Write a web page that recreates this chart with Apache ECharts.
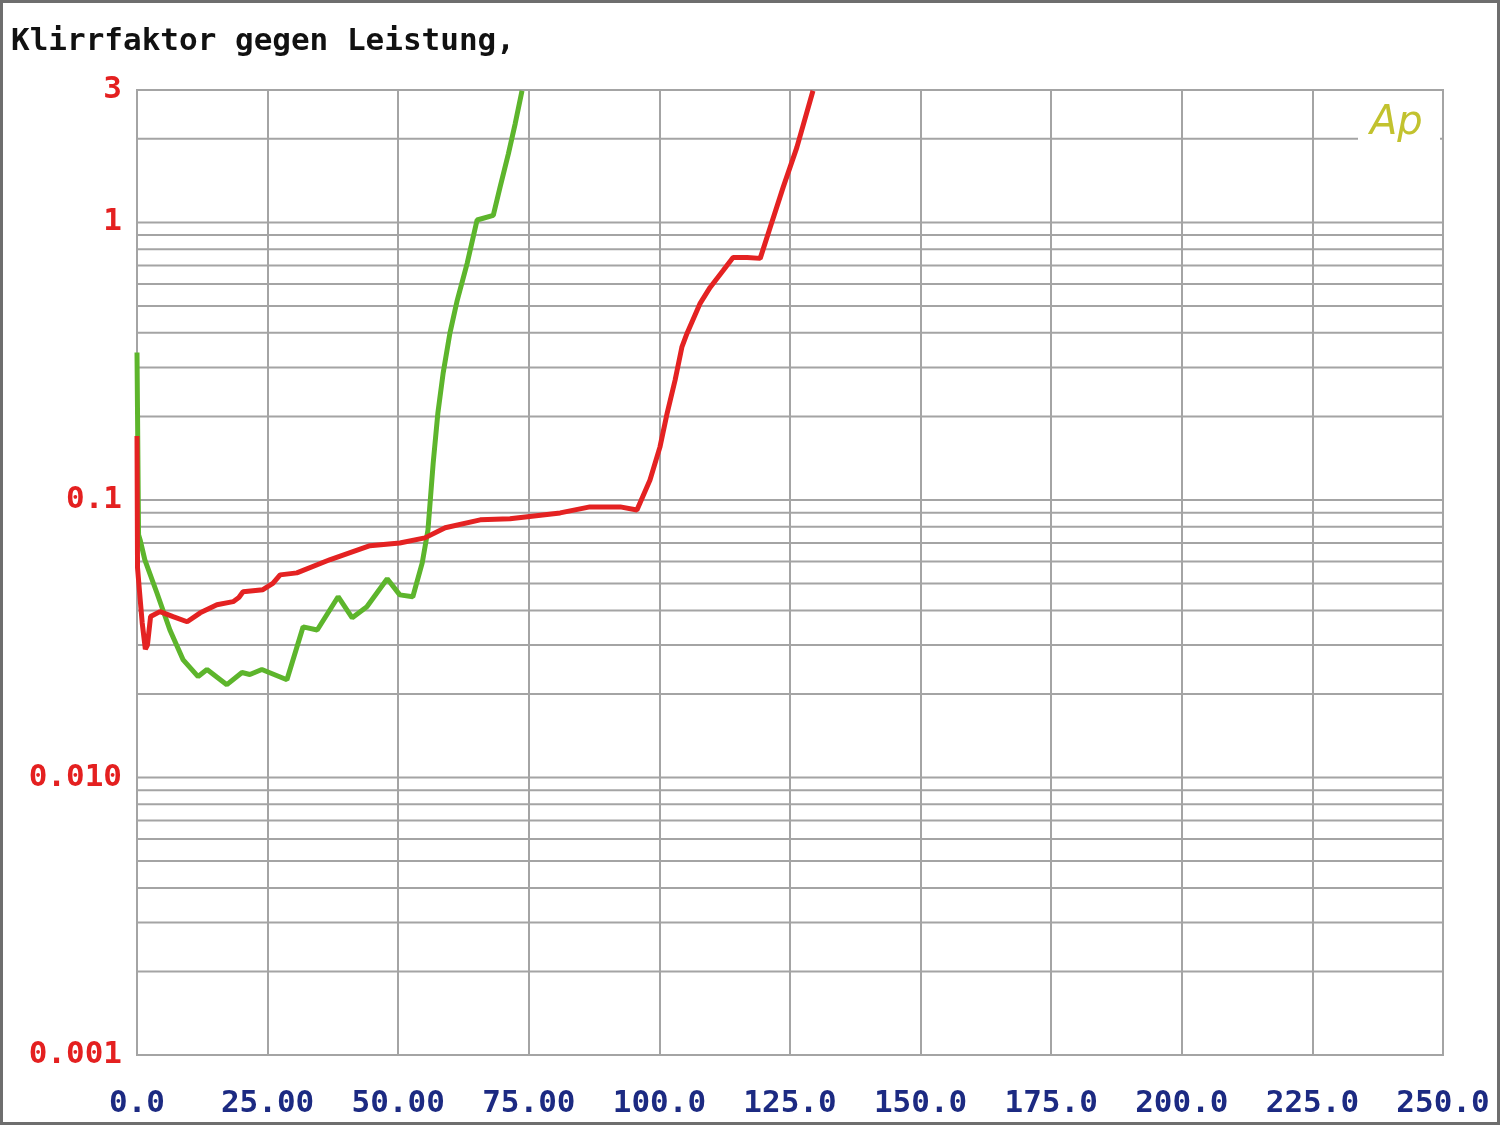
<!DOCTYPE html>
<html>
<head>
<meta charset="utf-8">
<script src="https://cdn.jsdelivr.net/npm/echarts@6/dist/echarts.min.js"></script>
<style>
html,body{margin:0;padding:0;background:#fff;}
#c{width:1500px;height:1125px;}
</style>
</head>
<body>
<div id="c"></div>
<script>
// Data (x: power, y: distortion %)
var greenSeries = [
  [0, 0.34], [0.3, 0.075], [0.6, 0.0718], [1.5, 0.0608], [3.8, 0.0463], [6.3, 0.034],
  [8.8, 0.0266], [11.7, 0.0231], [13.4, 0.0245], [17.2, 0.0216], [20.1, 0.0239],
  [21.6, 0.0235], [23.9, 0.0245], [28.7, 0.0225], [31.8, 0.0349], [34.5, 0.034],
  [38.5, 0.0448], [41.2, 0.0376], [44.0, 0.0412], [47.9, 0.052], [50.3, 0.0455],
  [52.8, 0.0448], [54.6, 0.0593], [55.7, 0.078], [56.7, 0.136], [57.6, 0.206],
  [58.6, 0.286], [59.9, 0.399], [61.3, 0.524], [63.2, 0.712], [65.1, 1.02],
  [68.2, 1.06], [69.5, 1.34], [71.1, 1.77], [72.4, 2.27], [73.7, 2.98]
];
var redSeries = [
  [0, 0.17], [0.1, 0.057], [0.6, 0.044], [1.0, 0.036], [1.6, 0.029], [2.0, 0.030],
  [2.6, 0.038], [4.4, 0.0396], [6.9, 0.038], [9.6, 0.0364], [12.1, 0.0392],
  [15.3, 0.0419], [18.4, 0.043], [19.5, 0.0445], [20.3, 0.0467], [24.1, 0.0475],
  [26, 0.050], [27.4, 0.0537], [30.6, 0.0546], [37, 0.061], [44.6, 0.0684],
  [50.3, 0.070], [55.1, 0.073], [59, 0.0794], [65.7, 0.0848], [71.4, 0.0855],
  [81, 0.0898], [86.7, 0.0944], [92.5, 0.0944], [95.7, 0.092], [98.2, 0.118],
  [100.1, 0.155], [101.5, 0.206], [103, 0.27], [104.3, 0.355], [105.3, 0.399],
  [107.8, 0.511], [109.7, 0.583], [112.2, 0.671], [114.1, 0.748], [116.8, 0.748],
  [119.3, 0.742], [121.2, 0.959], [123.7, 1.34], [126.3, 1.86], [129.4, 2.98]
];
var xTickValues = [0, 25, 50, 75, 100, 125, 150, 175, 200, 225, 250];
var xTickLabels = ['0.0', '25.00', '50.00', '75.00', '100.0', '125.0', '150.0', '175.0', '200.0', '225.0', '250.0'];
var yTickValues = [0.001, 0.01, 0.1, 1, 3];
var yTickLabels = ['0.001', '0.010', '0.1', '1', '3'];
var yGridValues = [
  0.002, 0.003, 0.004, 0.005, 0.006, 0.007, 0.008, 0.009,
  0.01, 0.02, 0.03, 0.04, 0.05, 0.06, 0.07, 0.08, 0.09,
  0.1, 0.2, 0.3, 0.4, 0.5, 0.6, 0.7, 0.8, 0.9,
  1, 2
];

var GRID = '#a4a4a4';
var chart = echarts.init(document.getElementById('c'), null, {renderer: 'canvas'});

function yLabel(v) {
  var i = -1;
  for (var k = 0; k < yTickValues.length; k++) {
    if (Math.abs(Math.log10(v) - Math.log10(yTickValues[k])) < 1e-6) { i = k; }
  }
  if (i < 0) return '';
  var t = yTickLabels[i];
  return (v < 0.05) ? '{g|' + t + '}' : '{r|' + t + '}';
}

var gridSeries = yGridValues.map(function (v) {
  return {
    type: 'line', data: [[0, v], [250, v]], z: 1, silent: true,
    showSymbol: false, symbol: 'none',
    lineStyle: {color: GRID, width: 2}
  };
});

var option = {
  animation: false,
  backgroundColor: '#ffffff',
  title: {
    text: 'Klirrfaktor gegen Leistung,',
    left: 6, top: 21,
    textStyle: {fontFamily: 'DejaVu Sans Mono', fontWeight: 'bold', fontSize: 31, color: '#111111'}
  },
  grid: {
    left: 137, right: 57, top: 90, bottom: 70,
    show: true, borderColor: GRID, borderWidth: 2, backgroundColor: 'transparent'
  },
  xAxis: {
    type: 'value', min: 0, max: 250, interval: 25,
    axisLine: {show: false},
    axisTick: {show: false},
    splitLine: {show: true, lineStyle: {color: GRID, width: 2}},
    axisLabel: {
      margin: 33,
      fontFamily: 'DejaVu Sans Mono', fontWeight: 'bold', fontSize: 31, color: '#1c2a82',
      showMinLabel: true, showMaxLabel: true,
      formatter: function (v) {
        var i = xTickValues.indexOf(Math.round(v));
        return i >= 0 ? xTickLabels[i] : '';
      }
    }
  },
  yAxis: {
    type: 'log', logBase: 10, min: 0.001, max: 3,
    axisLine: {show: false},
    axisTick: {show: false},
    splitLine: {show: false},
    axisLabel: {
      margin: 15,
      customValues: yTickValues,
      formatter: yLabel,
      rich: {
        r: {fontFamily: 'DejaVu Sans Mono', fontWeight: 'bold', fontSize: 31, color: '#e42020'},
        g: {fontFamily: 'DejaVu Sans Mono', fontWeight: 'bold', fontSize: 31, color: '#e42020',
            textShadowColor: '#5db52c', textShadowOffsetX: -2, textShadowOffsetY: 1, textShadowBlur: 0}
      }
    }
  },
  graphic: [
    {type: 'rect', z: 100, shape: {x: 1358, y: 128, width: 82, height: 22}, style: {fill: '#ffffff'}},
    {type: 'text', z: 101, left: 1370, top: 104,
      style: {text: 'Ap', fontFamily: 'DejaVu Sans', fontStyle: 'italic', fontSize: 40, fill: '#c2c22e'}},
    {type: 'rect', z: 100, shape: {x: 1.5, y: 1.5, width: 1497, height: 1122},
      style: {fill: 'none', stroke: '#6e6e6e', lineWidth: 3}}
  ],
  series: gridSeries.concat([
    {
      name: 'green', type: 'line', data: greenSeries, z: 3,
      showSymbol: false, smooth: false,
      lineStyle: {color: '#5db52c', width: 5}
    },
    {
      name: 'red', type: 'line', data: redSeries, z: 4,
      showSymbol: false, smooth: false,
      lineStyle: {color: '#e42222', width: 5}
    }
  ])
};
chart.setOption(option);
</script>
</body>
</html>
